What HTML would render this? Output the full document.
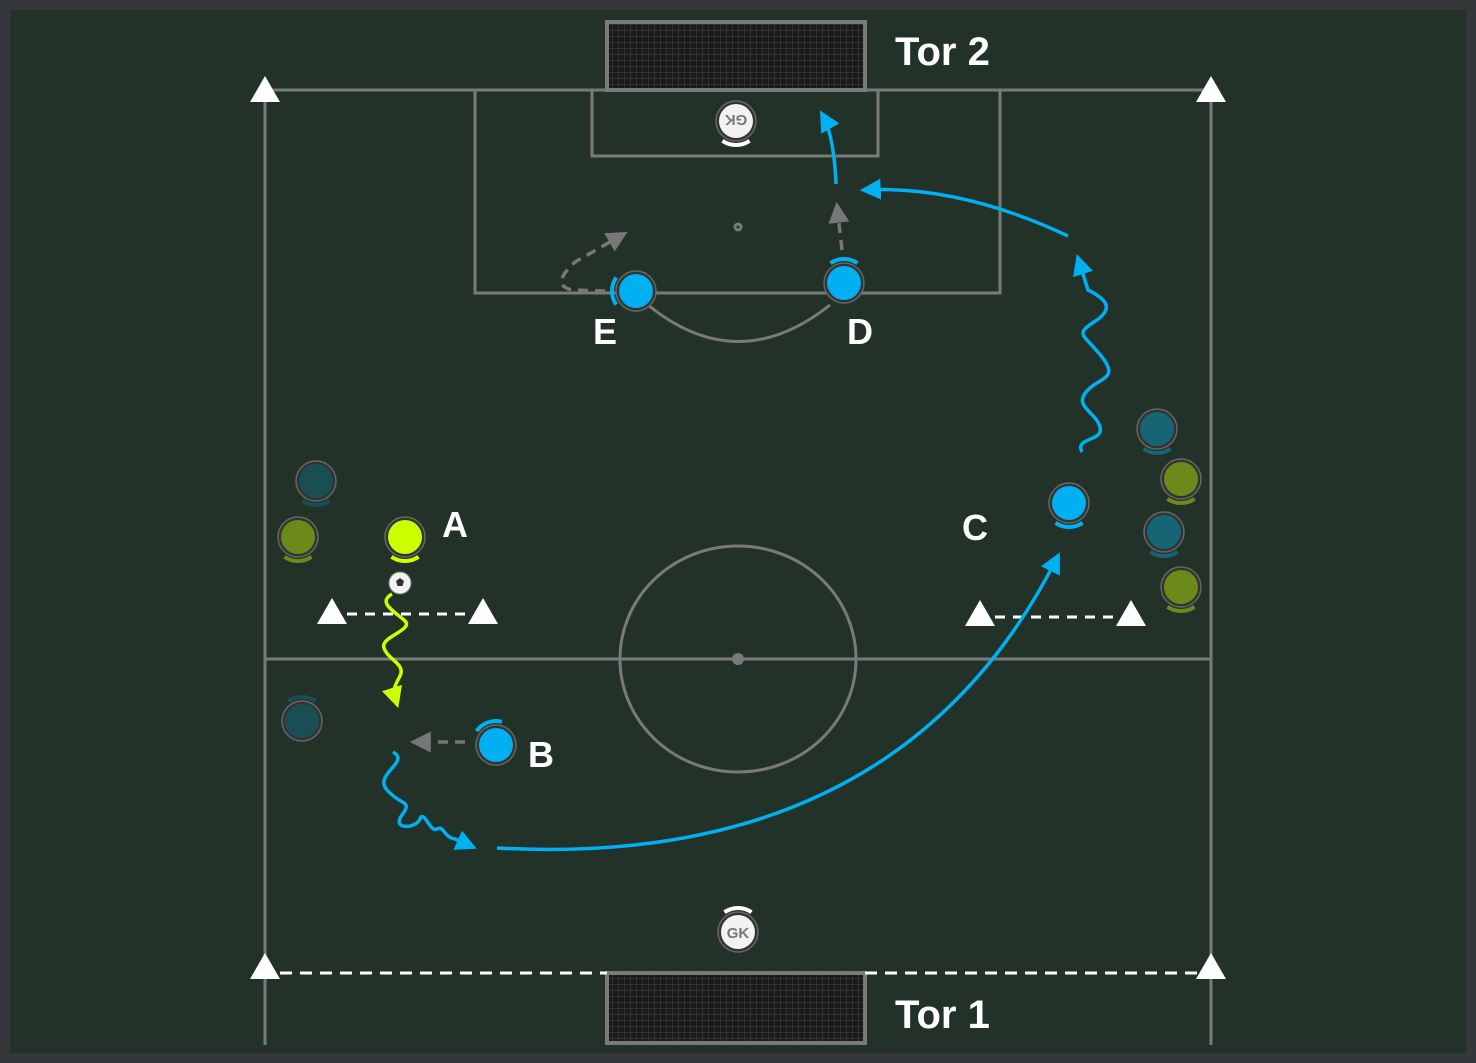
<!DOCTYPE html>
<html><head><meta charset="utf-8"><style>
html,body{margin:0;padding:0;background:#34383b}
svg{display:block}
text{font-family:"Liberation Sans",sans-serif;font-weight:bold;fill:#fff}
</style></head><body>
<svg width="1476" height="1063" viewBox="0 0 1476 1063" xmlns="http://www.w3.org/2000/svg">
<defs>
<pattern id="net" width="6" height="6" patternUnits="userSpaceOnUse"><rect width="6" height="6" fill="#1a1a1a"/><path d="M0 0H6M0 0V6" stroke="#3a3a3a" stroke-width="1.5"/></pattern>
<marker id="ab" viewBox="0 0 10 10" refX="8" refY="5" markerWidth="6" markerHeight="6" orient="auto" markerUnits="strokeWidth"><path d="M0 0L10 5L0 10z" fill="#00b0f0"/></marker>
<marker id="ay" viewBox="0 0 10 10" refX="8" refY="5" markerWidth="6" markerHeight="6" orient="auto" markerUnits="strokeWidth"><path d="M0 0L10 5L0 10z" fill="#ccff00"/></marker>
<marker id="ag" viewBox="0 0 10 10" refX="8" refY="5" markerWidth="6" markerHeight="6" orient="auto" markerUnits="strokeWidth"><path d="M0 0L10 5L0 10z" fill="#777"/></marker>
</defs>
<rect x="0" y="0" width="1476" height="1063" fill="#34383b"/>
<rect x="10" y="10" width="1456" height="1043" fill="#233229"/>
<g fill="none" stroke="#7a7a7a" stroke-width="3">
<path d="M265 90V1045M1211 90V1045M265 90H1211M265 659H1211"/>
<rect x="475" y="90" width="525" height="203"/>
<rect x="592" y="90" width="286" height="66"/>
<ellipse cx="738" cy="659" rx="118" ry="113"/>
<path d="M648 305Q738 378 830 305"/>
<circle cx="738" cy="227" r="3"/>
</g>
<circle cx="738" cy="659" r="6" fill="#7a7a7a"/>
<rect x="607" y="22" width="258" height="68" fill="url(#net)" stroke="#7a7a7a" stroke-width="4"/>
<rect x="607" y="973" width="258" height="70" fill="url(#net)" stroke="#7a7a7a" stroke-width="4"/>
<text x="895" y="65" font-size="40">Tor 2</text>
<text x="895" y="1028" font-size="40">Tor 1</text>
<path d="M280 973H607M865 973H1200" stroke="#fff" stroke-width="3" stroke-dasharray="12 8"/>
<path d="M347 614H470" stroke="#fff" stroke-width="3" stroke-dasharray="10 8"/>
<path d="M995 617H1118" stroke="#fff" stroke-width="3" stroke-dasharray="10 8"/>
<g id="cones"></g>
<g fill="none" stroke-width="3.5">
<path d="M392 594c-14 8 0 16 12 26s-24 16 -20 28s22 16 16 28s-8 12 -3 28" stroke="#ccff00" marker-end="url(#ay)"/>
<path d="M393 752c18 10 -20 22 -6 38s26 10 15 25s14 14 18 4s10 14 17 10s6 8 18 10l18 8" stroke="#00b0f0" marker-end="url(#ab)"/>
<path d="M497 848Q900 870 1058 556" stroke="#00b0f0" marker-end="url(#ab)"/>
<path d="M1082 452c-8-15 22-10 18-25s-26-20-14-35s34-12 16-35s-28-22-8-35s14-22-6-32l-10-32" stroke="#00b0f0" marker-end="url(#ab)"/>
<path d="M1068 236Q960 185 864 190" stroke="#00b0f0" marker-end="url(#ab)"/>
<path d="M836 184Q834 135 822 114" stroke="#00b0f0" marker-end="url(#ab)"/>
<path d="M842 250L837 206" stroke="#777" stroke-dasharray="10 7" marker-end="url(#ag)"/>
<path d="M605 291L572 290Q550 285 575 262L624 234" stroke="#777" stroke-dasharray="10 7" marker-end="url(#ag)"/>
<path d="M465 742H414" stroke="#777" stroke-dasharray="10 7" marker-end="url(#ag)"/>
</g>
<g id="players"></g>
<g>
<circle cx="400" cy="583" r="11" fill="#f2f2f2" stroke="#888" stroke-width="1"/>
<path d="M400 578l4 3-1.5 5h-5l-1.5-5z" fill="#333"/>
</g>
<text x="442" y="537" font-size="36">A</text>
<text x="528" y="767" font-size="36">B</text>
<text x="962" y="540" font-size="36">C</text>
<text x="847" y="344" font-size="36">D</text>
<text x="593" y="344" font-size="36">E</text>
</svg>
<script>
const conesX=[265,1211,265,1211,332,483,980,1131];
const conesY=[90,90,967,967,612,612,614,614];
const playerNames=['A','B','C','D','E','GK2','GK1','t1','t2','t3','t4','o1','o2','o3'];
const playerX=[405,496,1069,844,636,736,738,316,302,1157,1164,298,1181,1181];
const playerY=[537,745,503,283,291,121,932,481,721,429,532,537,479,587];
const playerFacing=[90,-110,90,-90,180,90,-90,90,-90,90,90,90,90,90];
const playerColor=['#ccff00','#00b0f0','#00b0f0','#00b0f0','#00b0f0','#f2f2f2','#f2f2f2','#1a4e55','#1a4e55','#176474','#176474','#6b8a1a','#6b8a1a','#6b8a1a'];
const NS='http://www.w3.org/2000/svg';
const cg=document.getElementById('cones');
for(let i=0;i<conesX.length;i++){
  const p=document.createElementNS(NS,'path');
  const x=conesX[i],y=conesY[i];
  p.setAttribute('d',`M${x} ${y-14}L${x+15} ${y+12}L${x-15} ${y+12}Z`);
  p.setAttribute('fill','#fff');
  
  
  cg.appendChild(p);
}
const pg=document.getElementById('players');
for(let i=0;i<playerX.length;i++){
  const g=document.createElementNS(NS,'g');
  
  
  const x=playerX[i],y=playerY[i],c=playerColor[i];
  const a=playerFacing[i]*Math.PI/180,s=0.6,R=24;
  const arc=document.createElementNS(NS,'path');
  const x1=x+R*Math.cos(a-s),y1=y+R*Math.sin(a-s),x2=x+R*Math.cos(a+s),y2=y+R*Math.sin(a+s);
  arc.setAttribute('d',`M${x1} ${y1}A${R} ${R} 0 0 1 ${x2} ${y2}`);
  arc.setAttribute('fill','none');
  arc.setAttribute('stroke',c==='#f2f2f2'?'#fff':c);
  arc.setAttribute('stroke-width','4');
  g.appendChild(arc);
  const ring=document.createElementNS(NS,'circle');
  ring.setAttribute('cx',x);ring.setAttribute('cy',y);ring.setAttribute('r',20);
  ring.setAttribute('fill','#333');ring.setAttribute('stroke','#666');ring.setAttribute('stroke-width','1.5');
  g.appendChild(ring);
  const b=document.createElementNS(NS,'circle');
  b.setAttribute('cx',x);b.setAttribute('cy',y);b.setAttribute('r',17);
  b.setAttribute('fill',c);
  g.appendChild(b);
  if(playerNames[i].startsWith('GK')){
    const t=document.createElementNS(NS,'text');
    t.setAttribute('x',x);t.setAttribute('y',y+6);
    t.setAttribute('text-anchor','middle');t.setAttribute('font-size','15');
    t.setAttribute('style','fill:#777');
    if(playerNames[i]==='GK2')t.setAttribute('transform',`rotate(180 ${x} ${y})`);
    t.textContent='GK';
    g.appendChild(t);
  }
  pg.appendChild(g);
}
</script>
</body></html>
